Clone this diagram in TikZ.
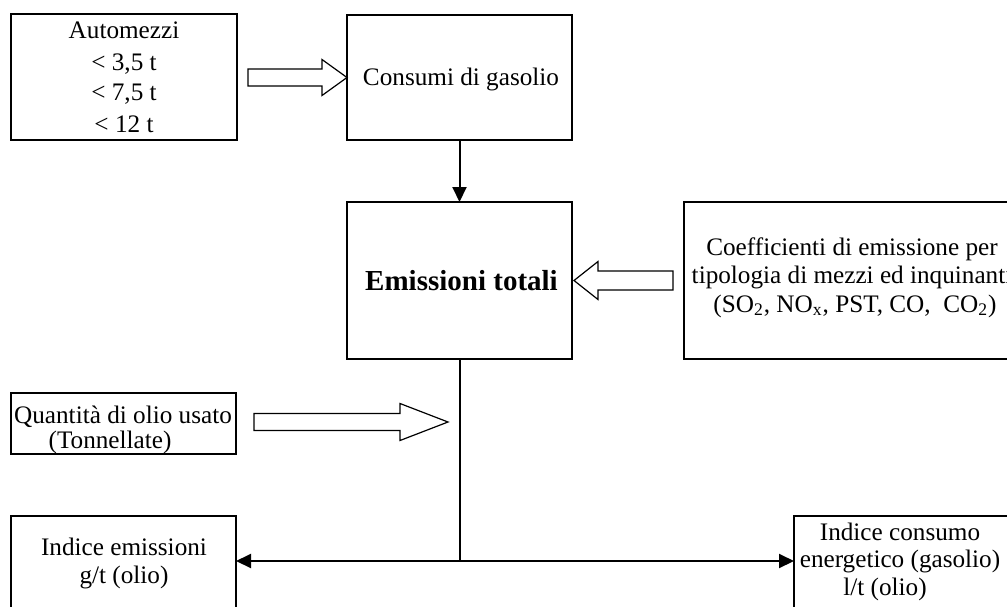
\documentclass[tikz,border=0pt]{standalone}
\usepackage{fontspec}
\setmainfont{Liberation Serif}
\usetikzlibrary{arrows.meta,calc}

% hollow block arrow: tip, direction, total length, head length, shaft half-width, head half-width
\newcommand{\blockarrow}[6]{%
  \draw[hollow, shift={(#1)}, rotate=#2]
    (0,0) -- (-#4,#6) -- (-#4,#5) -- (-#3,#5) -- (-#3,-#5) -- (-#4,-#5) -- (-#4,-#6) -- cycle;}

\begin{document}
\begin{tikzpicture}[x=0.5pt,y=-0.5pt,
  box/.style={draw, line width=1pt, inner sep=0pt, outer sep=0pt, anchor=north west},
  txt/.style={font=\fontsize{12.6}{15}\selectfont, anchor=base, inner sep=0pt},
  bold/.style={font=\fontsize{14.5}{17}\selectfont\bfseries, anchor=base, inner sep=0pt},
  hollow/.style={draw, line width=0.6pt, fill=white, line join=miter},
  wire/.style={line width=1pt},
  flow/.style={line width=1pt, -{Triangle[length=7.5pt,width=7pt]}}]
\useasboundingbox (0,0) rectangle (1007,606);
\clip (0,0) rectangle (1007,606);

% boxes
\node[box, minimum width=113pt, minimum height=63pt] (auto) at (11,14) {};
\node[box, minimum width=112.5pt, minimum height=62.5pt] (cons) at (347,15) {};
\node[box, minimum width=112.5pt, minimum height=78.5pt] (emis) at (347,202) {};
\node[box, minimum width=168pt, minimum height=78.5pt] (coef) at (684,202) {};
\node[box, minimum width=112.5pt, minimum height=30.5pt] (quant) at (11,393) {};
\node[box, minimum width=112.5pt, minimum height=65pt] (ie) at (11,516) {};
\node[box, minimum width=115pt, minimum height=65pt] (ic) at (794,516) {};

% texts
\node[txt] (a1) at (124,38) {Automezzi};
\node[txt] (a2) at (124,70) {< 3,5 t};
\node[txt] (a3) at (124,100) {< 7,5 t};
\node[txt] (a4) at (124,132) {< 12 t};

\node[txt] (c1) at (461,85) {Consumi di gasolio};

\node[bold] (e1) at (461.5,290) {Emissioni totali};

\node[txt] (k1) at (852,255) {Coefficienti di emissione per};
\node[txt] (k2) at (852,283) {tipologia di mezzi ed inquinanti};
\node[txt] (k3) at (855,312) {(SO\textsubscript{2}, NO\textsubscript{x}, PST, CO,~ CO\textsubscript{2})};

\node[txt] (q1) at (123,423) {Quantità di olio usato};
\node[txt] (q2) at (110,448) {(Tonnellate)};

\node[txt] (i1) at (124,555) {Indice emissioni};
\node[txt] (i2) at (124,583) {g/t (olio)};

\node[txt] (j1) at (900,540) {Indice consumo};
\node[txt] (j2) at (900,567) {energetico (gasolio)};
\node[txt] (j3) at (885,595) {l/t (olio)};

% connectors
\draw[flow] (cons.south) -- (emis.north);
\coordinate (jn) at ($(emis.south)+(0,202)$);
\draw[wire] (emis.south) -- (jn);
\draw[flow] (jn) -- (jn -| ie.east);
\draw[flow] (jn) -- (jn -| ic.west);

% block arrows
\blockarrow{cons.west}{0}{99}{25}{8.5}{18}
\coordinate (t2) at ($(emis.east)+(2,0)$);
\blockarrow{t2}{180}{99}{24}{9.5}{19}
\coordinate (t3) at ($(quant.east)+(212,-1.5)$);
\blockarrow{t3}{0}{194}{48}{8.5}{18.5}
\end{tikzpicture}
\end{document}
